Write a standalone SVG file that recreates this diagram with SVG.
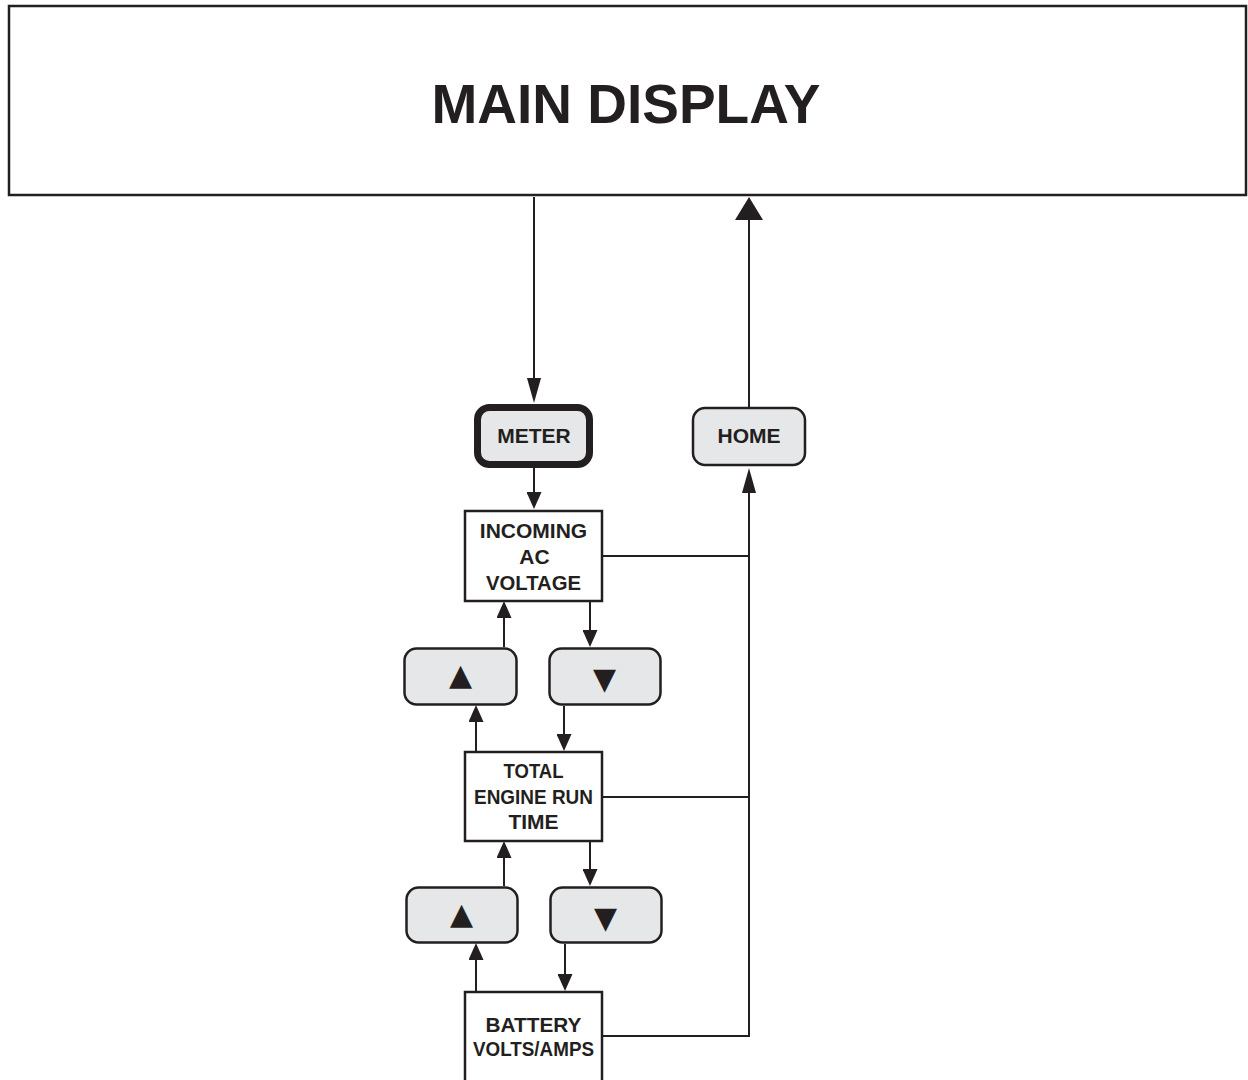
<svg xmlns="http://www.w3.org/2000/svg" width="1248" height="1080" viewBox="0 0 1248 1080">
  <style>
    .box { fill: #ffffff; stroke: #231f20; stroke-width: 2.5; }
    .btn { fill: #e6e7e8; stroke: #231f20; stroke-width: 2.5; }
    .btn-active { fill: #e6e7e8; stroke: #231f20; stroke-width: 7; }
    .lbl { font-family: "Liberation Sans", Arial, sans-serif; font-weight: bold; font-size: 21px; fill: #231f20; text-anchor: middle; }
    .title { font-family: "Liberation Sans", Arial, sans-serif; font-weight: bold; font-size: 55px; fill: #231f20; text-anchor: middle; }
    .sym { font-family: "DejaVu Sans", sans-serif; font-size: 30px; fill: #231f20; text-anchor: middle; }
    .wire { fill: none; stroke: #231f20; stroke-width: 2; }
  </style>
  <defs>
    <!-- arrowheads start at the end of the line and extend forward to the tip -->
    <marker id="head-s" viewBox="0 0 17 15" refX="0" refY="7.5" markerWidth="17" markerHeight="15" markerUnits="userSpaceOnUse" orient="auto">
      <path d="M0,0 L17,7.5 L0,15 z" fill="#231f20"/>
    </marker>
    <marker id="head-l" viewBox="0 0 25 14" refX="0" refY="7" markerWidth="25" markerHeight="14" markerUnits="userSpaceOnUse" orient="auto">
      <path d="M0,0 L25,7 L0,14 z" fill="#231f20"/>
    </marker>
    <marker id="head-w" viewBox="0 0 23 28" refX="0" refY="14" markerWidth="23" markerHeight="28" markerUnits="userSpaceOnUse" orient="auto">
      <path d="M0,0 L23,14 L0,28 z" fill="#231f20"/>
    </marker>
  </defs>

  <g id="main-display">
    <rect class="box" x="9" y="6" width="1237" height="189"/>
    <text class="title" x="626" y="123">MAIN DISPLAY</text>
  </g>

  <g id="connectors">
    <path class="wire" d="M534,197 V378" marker-end="url(#head-l)"/>
    <path class="wire" d="M534,468 V492" marker-end="url(#head-s)"/>
    <path class="wire" d="M749,407 V220" marker-end="url(#head-w)"/>
    <path class="wire" d="M603,556 H749"/>
    <path class="wire" d="M603,797 H749"/>
    <path class="wire" d="M603,1036 H749 V493" marker-end="url(#head-l)"/>
    <path class="wire" d="M504,647 V618" marker-end="url(#head-s)"/>
    <path class="wire" d="M590,602 V630" marker-end="url(#head-s)"/>
    <path class="wire" d="M476,751 V722" marker-end="url(#head-s)"/>
    <path class="wire" d="M564,706 V734" marker-end="url(#head-s)"/>
    <path class="wire" d="M504,886 V858" marker-end="url(#head-s)"/>
    <path class="wire" d="M590,842 V869" marker-end="url(#head-s)"/>
    <path class="wire" d="M476,991 V960" marker-end="url(#head-s)"/>
    <path class="wire" d="M565,944 V974" marker-end="url(#head-s)"/>
  </g>

  <g id="meter">
    <rect class="btn-active" x="477.5" y="407.5" width="112" height="57" rx="12"/>
    <text class="lbl" x="534" y="443">METER</text>
  </g>

  <g id="home">
    <rect class="btn" x="693" y="408" width="112" height="57" rx="12"/>
    <text class="lbl" x="749" y="443">HOME</text>
  </g>

  <g id="incoming-ac-voltage">
    <rect class="box" x="465" y="511" width="137" height="90"/>
    <text class="lbl" x="533.5" y="538">INCOMING</text>
    <text class="lbl" x="534.5" y="564">AC</text>
    <text class="lbl" x="533.5" y="590" textLength="95" lengthAdjust="spacingAndGlyphs">VOLTAGE</text>
  </g>

  <g id="up-1">
    <rect class="btn" x="404.5" y="648.5" width="112" height="56" rx="12"/>
    <text class="sym" x="460.5" y="685">▲</text>
  </g>

  <g id="down-1">
    <rect class="btn" x="549.5" y="648.5" width="111" height="56" rx="12"/>
    <text class="sym" x="604.5" y="689">▼</text>
  </g>

  <g id="total-engine-run-time">
    <rect class="box" x="465" y="752" width="137" height="89"/>
    <text class="lbl" x="533.5" y="778" textLength="60" lengthAdjust="spacingAndGlyphs">TOTAL</text>
    <text class="lbl" x="533.5" y="804" textLength="119" lengthAdjust="spacingAndGlyphs">ENGINE RUN</text>
    <text class="lbl" x="533.5" y="829">TIME</text>
  </g>

  <g id="up-2">
    <rect class="btn" x="406.5" y="887.5" width="111" height="55" rx="12"/>
    <text class="sym" x="461.5" y="924">▲</text>
  </g>

  <g id="down-2">
    <rect class="btn" x="550.5" y="887.5" width="111" height="55" rx="12"/>
    <text class="sym" x="605.5" y="928">▼</text>
  </g>

  <g id="battery-volts-amps">
    <rect class="box" x="465" y="992" width="137" height="100"/>
    <text class="lbl" x="533.5" y="1032" textLength="96" lengthAdjust="spacingAndGlyphs">BATTERY</text>
    <text class="lbl" x="533.5" y="1056" textLength="121" lengthAdjust="spacingAndGlyphs">VOLTS/AMPS</text>
  </g>
</svg>
